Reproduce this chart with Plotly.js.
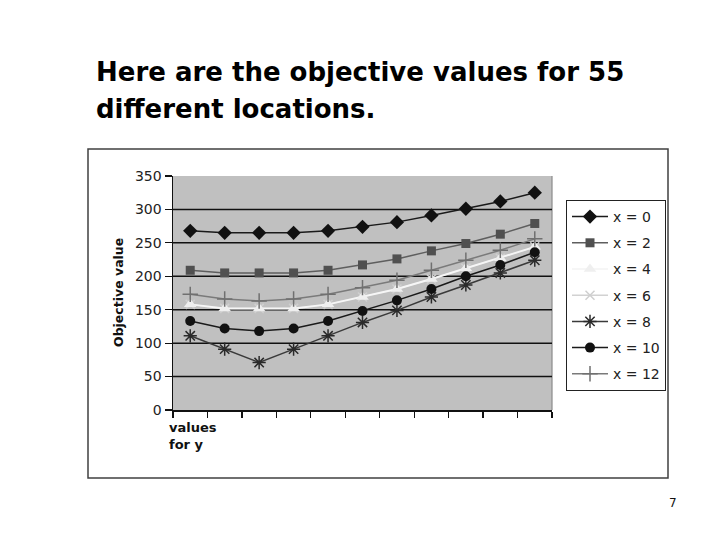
<!DOCTYPE html>
<html>
<head>
<meta charset="utf-8">
<script src="https://cdn.plot.ly/plotly-3.0.1.min.js"></script>
<style>html,body{margin:0;padding:0;background:#fff;}#chart{width:720px;height:540px;}</style>
</head>
<body>
<div id="chart"></div>
<script>
// ---- data ----
const yCategories = ['0','2','4','6','8','10','12','14','16','18','20'];
const seriesNames = ['x = 0','x = 2','x = 4','x = 6','x = 8','x = 10','x = 12'];
const x0  = [268, 265, 265, 265, 268, 274, 281, 291, 301, 312, 325];
const x2  = [209, 205, 205, 205, 209, 217, 226, 238, 249, 263, 279];
const x4  = [158, 152, 152, 152, 158, 169, 181, 196, 212, 227, 244];
const x6  = [158, 152, 152, 152, 158, 169, 181, 196, 212, 227, 244];
const x8  = [111,  91,  71,  91, 111, 131, 149, 169, 187, 205, 224];
const x10 = [133, 122, 118, 122, 133, 148, 164, 181, 200, 217, 236];
const x12 = [173, 166, 163, 166, 173, 183, 194, 209, 224, 239, 256];
const yTicks = [0, 50, 100, 150, 200, 250, 300, 350];

// ---- styles ----
const FONT = 'DejaVu Sans, Arial, sans-serif';
const styles = [
  {line:'#1a1a1a', w:1.5, sym:'diamond', size:11, mc:'#111111', lw:0, rank:1},
  {line:'#5e5e5e', w:1.5, sym:'square', size:9, mc:'#505050', lw:0, rank:2},
  {line:'#f6f6f6', w:2, sym:'triangle-up', size:11, mc:'#efefef', lw:0, rank:3},
  {line:'#d2d2d2', w:1.5, sym:'x-thin-open', size:9, mc:'#cfcfcf', lw:1.5, rank:4},
  {line:'#3a3a3a', w:1.5, sym:'asterisk-open', size:11, mc:'#2a2a2a', lw:1.5, rank:5},
  {line:'#1a1a1a', w:1.5, sym:'circle', size:10, mc:'#111111', lw:0, rank:6},
  {line:'#7a7a7a', w:1.5, sym:'cross-thin-open', size:11, mc:'#707070', lw:1.5, rank:7}
];
const values = [x0, x2, x4, x6, x8, x10, x12];
// draw order: x=6 under x=4
const drawOrder = [0, 1, 3, 2, 4, 5, 6];

const traces = drawOrder.map(i => ({
  type: 'scatter', mode: 'lines+markers',
  x: yCategories, y: values[i], name: seriesNames[i],
  legendgroup: 'g' + i, legendrank: styles[i].rank,
  line: {color: styles[i].line, width: styles[i].w},
  marker: {symbol: styles[i].sym, size: styles[i].size, color: styles[i].mc,
           line: {width: styles[i].lw, color: styles[i].mc}},
  cliponaxis: false
}));

// pixel -> paper helpers for layout decorations
const M = {l:173, r:168, t:176, b:130};
const PW = 720 - M.l - M.r, PH = 540 - M.t - M.b;
const X = px => (px - M.l) / PW;
const Y = py => (540 - M.b - py) / PH;

const shapes = [
  {type:'rect', xref:'paper', yref:'paper', x0:X(88), x1:X(668), y0:Y(478), y1:Y(149),
   line:{color:'#404040', width:1.5}, layer:'below'},
  {type:'line', xref:'paper', yref:'paper', x0:1, x1:1, y0:0, y1:1,
   line:{color:'#8a8a8a', width:1.2}, layer:'below'}
].concat(yTicks.filter(v => v > 0 && v < 350).map(v => ({
  type:'line', xref:'paper', yref:'y', x0:0, x1:1, y0:v, y1:v,
  line:{color:'#111111', width:1.5}, layer:'below'
})));

const layout = {
  width:720, height:540,
  margin:{l:M.l, r:M.r, t:M.t, b:M.b, pad:0},
  paper_bgcolor:'#ffffff', plot_bgcolor:'#c0c0c0',
  showlegend:true,
  legend:{x:X(566), y:Y(200), xanchor:'left', yanchor:'top',
          bgcolor:'#ffffff', bordercolor:'#222222', borderwidth:1,
          font:{family:FONT, size:14, color:'#222222'}, tracegroupgap:5,
          itemwidth:36, traceorder:'grouped'},
  xaxis:{type:'category', range:[-0.5, 10.5], showgrid:false, zeroline:false,
         showline:true, linecolor:'#111111', linewidth:1.5,
         ticks:'outside', tickson:'boundaries', ticklen:6, tickcolor:'#111111', tickwidth:1.2,
         showticklabels:false, fixedrange:true},
  yaxis:{range:[0, 350], tickvals:yTicks, ticktext:yTicks.map(String),
         showgrid:false, zeroline:false,
         showline:true, linecolor:'#111111', linewidth:1.5,
         ticks:'outside', ticklen:7, tickcolor:'#111111', tickwidth:1.2,
         tickfont:{family:FONT, size:14, color:'#222222'}, fixedrange:true},
  shapes: shapes,
  annotations:[
    {xref:'paper', yref:'paper', x:X(94), y:Y(72), xanchor:'left', yanchor:'middle',
     text:'Here are the objective values for 55', showarrow:false,
     font:{family:FONT, size:26, color:'#000000', weight:'bold'}},
    {xref:'paper', yref:'paper', x:X(94), y:Y(109), xanchor:'left', yanchor:'middle',
     text:'different locations.', showarrow:false,
     font:{family:FONT, size:26, color:'#000000', weight:'bold'}},
    {xref:'paper', yref:'paper', x:X(118), y:0.5, xanchor:'center', yanchor:'middle',
     textangle:-90, text:'Objective value', showarrow:false,
     font:{family:FONT, size:12.5, color:'#111111', weight:'bold'}},
    {xref:'paper', yref:'paper', x:X(167), y:Y(436), xanchor:'left', yanchor:'middle', align:'left',
     text:'values<br>for y', showarrow:false,
     font:{family:FONT, size:13, color:'#111111', weight:'bold'}},
    {xref:'paper', yref:'paper', x:X(673), y:Y(503), xanchor:'center', yanchor:'middle',
     text:'7', showarrow:false, font:{family:FONT, size:12, color:'#111111'}}
  ]
};

Plotly.newPlot('chart', traces, layout, {displayModeBar:false, staticPlot:true});
</script>
</body>
</html>
